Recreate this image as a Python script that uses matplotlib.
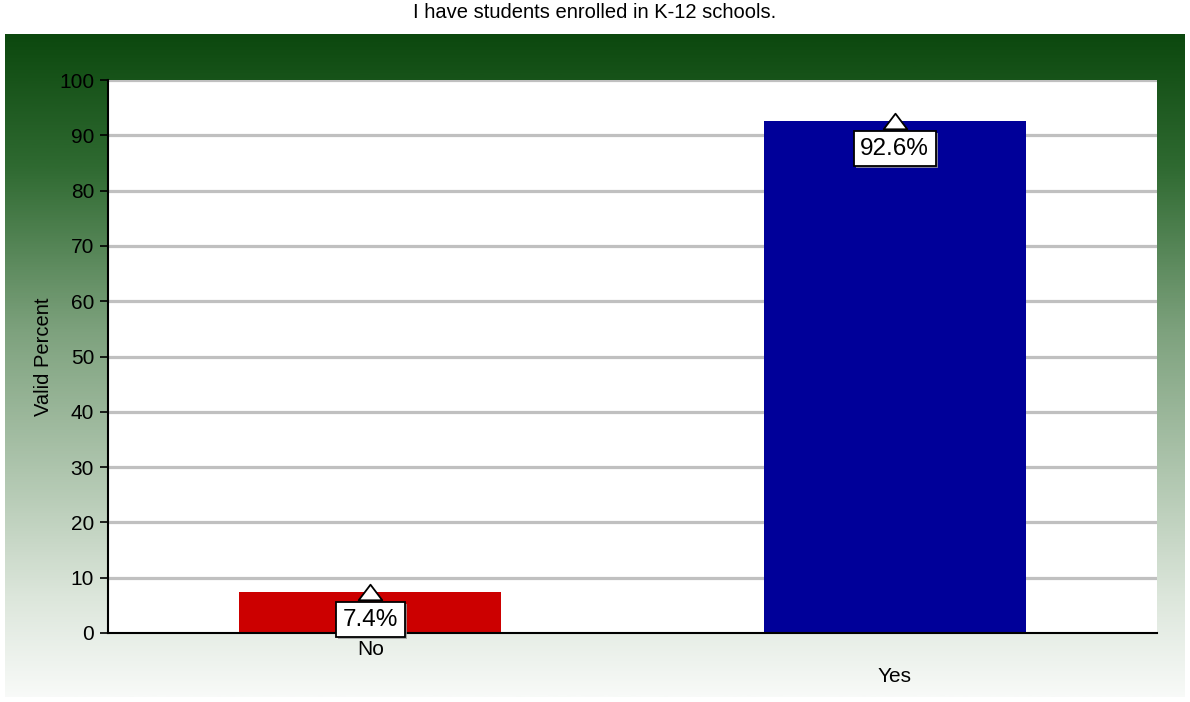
import numpy as np
import matplotlib
matplotlib.use("Agg")
import matplotlib.pyplot as plt
from matplotlib.colors import LinearSegmentedColormap
from matplotlib.path import Path
from matplotlib import patheffects as pe

title = "I have students enrolled in K-12 schools."
categories = ["No", "Yes"]
values = [7.4, 92.6]
labels = ["7.4%", "92.6%"]
bar_colors = ["#cc0000", "#000099"]
yticks = [0, 10, 20, 30, 40, 50, 60, 70, 80, 90, 100]

plt.rcParams['font.family'] = ['Liberation Sans', 'DejaVu Sans']

W, H = 1190, 702
fig = plt.figure(figsize=(W / 100, H / 100), dpi=100)
fig.patch.set_facecolor("white")

# gradient background panel
bg = fig.add_axes([5 / W, 1 - 697 / H, 1180 / W, (697 - 34) / H])
bg.set_axis_off()
stops = [(0.0, "#0c480e"), (0.2, "#2f6a31"), (0.45, "#7ea27e"),
         (0.7, "#b8ccb7"), (0.85, "#dce6db"), (1.0, "#f8faf8")]
cmap = LinearSegmentedColormap.from_list("g", stops)
grad = np.linspace(0, 1, 512).reshape(-1, 1)
bg.imshow(grad, aspect="auto", cmap=cmap, extent=[0, 1, 0, 1], origin="upper")

# main plot
left, right, top, bottom = 108, 1157, 80, 633
ax = fig.add_axes([left / W, 1 - bottom / H, (right - left) / W, (bottom - top) / H])
ax.set_facecolor("white")
ax.set_xlim(0, 2)
ax.set_ylim(0, 100)
x = np.arange(len(categories)) + 0.5
for yv in yticks[1:]:
    ax.axhline(yv, color="#c0c0c0", lw=2.3, zorder=1)
ax.bar(x, values, width=0.5, color=bar_colors, zorder=2)
for spine in ["top", "right"]:
    ax.spines[spine].set_visible(False)
ax.spines["left"].set_linewidth(1.5)
ax.spines["bottom"].set_linewidth(1.5)
ax.set_yticks(yticks)
ax.tick_params(axis="y", length=6, width=1.2, labelsize=15, direction="out", pad=4)
ax.set_xticks(x)
ax.set_xticklabels([])
ax.tick_params(axis="x", length=0)
for i, (xi, cat) in enumerate(zip(x, categories)):
    off = 5 if i % 2 == 0 else 24.5
    ax.annotate(cat, (xi, 0), xycoords="data", xytext=(0, -off),
                textcoords="offset points", ha="center", va="top", fontsize=15)
ax.set_ylabel("Valid Percent", fontsize=14.5, labelpad=4)

tri = Path([(-0.5, -0.33), (0.5, -0.33), (0.0, 0.33), (-0.5, -0.33)],
           [Path.MOVETO, Path.LINETO, Path.LINETO, Path.CLOSEPOLY])
for xi, v, lab in zip(x, values, labels):
    ax.plot([xi], [v], marker=tri, markersize=17, markerfacecolor="white",
            markeredgecolor="black", markeredgewidth=1.3, zorder=5, clip_on=False)
    t = ax.annotate(lab, (xi, v), xytext=(0, -12), textcoords="offset points",
                    ha="center", va="top", fontsize=17.5, zorder=6,
                    bbox=dict(boxstyle="square,pad=0.27", facecolor="white",
                              edgecolor="black", lw=1.3))
    t.get_bbox_patch().set_path_effects(
        [pe.SimplePatchShadow(offset=(1.5, -1.5), shadow_rgbFace="#999999", alpha=0.8),
         pe.Normal()])

fig.text(0.5, 1 - 12 / H, title, ha="center", va="center", fontsize=14.5)

fig.savefig("out.png", dpi=100)
